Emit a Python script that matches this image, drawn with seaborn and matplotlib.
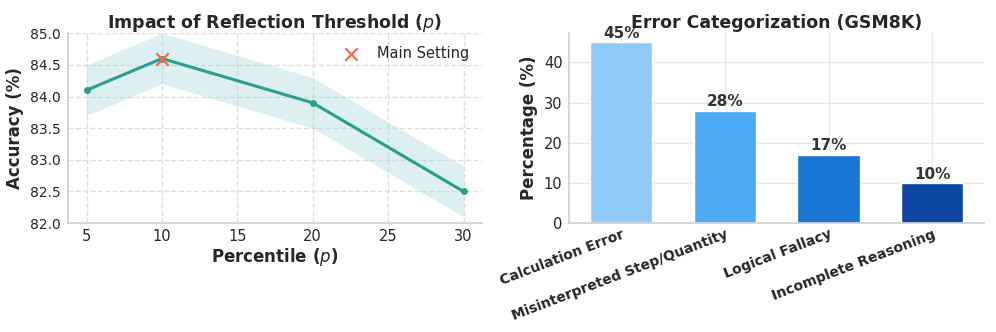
import numpy as np
import pandas as pd
import seaborn as sns
import matplotlib.pyplot as plt

# left panel: accuracy vs percentile
percentiles = [5, 10, 20, 30]
accuracy = [84.1, 84.6, 83.9, 82.5]
acc_lower = [83.7, 84.2, 83.5, 82.1]
acc_upper = [84.5, 85.0, 84.3, 82.9]
main_p = [10]
main_acc = [84.6]

# right panel: error categories
categories = ['Calculation Error', 'Misinterpreted Step/Quantity',
              'Logical Fallacy', 'Incomplete Reasoning']
percentages = [45, 28, 17, 10]
bar_colors = ['#90caf9', '#4dabf5', '#1976d2', '#0d47a1']

sns.set_theme(style="whitegrid")
plt.rcParams['font.family'] = ['DejaVu Sans']
plt.rcParams['axes.edgecolor'] = '#d0d0d0'
plt.rcParams['grid.color'] = '#e6e6e6'

fig, (ax1, ax2) = plt.subplots(1, 2, figsize=(9.96, 3.32), dpi=100)
fig.subplots_adjust(left=0.068, right=0.988, top=0.90, bottom=0.328, wspace=0.21)

df_line = pd.DataFrame({'Percentile': percentiles, 'Accuracy': accuracy})
ax1.fill_between(percentiles, acc_lower, acc_upper, color='#a8dadc', alpha=0.4, linewidth=0)
sns.lineplot(data=df_line, x='Percentile', y='Accuracy', ax=ax1, color='#2a9d8f',
             linewidth=2.2, marker='o', markersize=5, markeredgewidth=0)
ax1.scatter(main_p, main_acc, marker='x', s=80, color='#e76f51', linewidths=1.6,
            zorder=5, label='Main Setting')
ax1.set_ylim(82.0, 85.0)
ax1.set_yticks(np.arange(82.0, 85.01, 0.5))
ax1.set_yticklabels([f"{t:.1f}" for t in np.arange(82.0, 85.01, 0.5)])
ax1.set_xticks([5, 10, 15, 20, 25, 30])
ax1.grid(True, linestyle='--', color='#dddddd')
ax1.set_title('Impact of Reflection Threshold ($p$)', fontsize=12.5, fontweight='bold', pad=4)
ax1.set_xlabel('Percentile ($p$)', fontsize=12, fontweight='bold', labelpad=2)
ax1.set_ylabel('Accuracy (%)', fontsize=12, fontweight='bold', labelpad=4)
ax1.tick_params(axis='y', labelsize=10, length=0, pad=5)
ax1.tick_params(axis='x', labelsize=10.5, length=0, pad=4)
ax1.legend(loc='upper right', frameon=False, fontsize=10.5)
sns.despine(ax=ax1)

df_bar = pd.DataFrame({'Category': categories, 'Percentage': percentages})
sns.barplot(data=df_bar, x='Category', y='Percentage', hue='Category',
            palette=bar_colors, saturation=1, ax=ax2, width=0.6, legend=False)
for p, v in zip(ax2.patches, percentages):
    ax2.annotate(f"{v}%", (p.get_x() + p.get_width() / 2., p.get_height()),
                 ha='center', va='bottom', xytext=(0, 1), textcoords='offset points',
                 fontsize=11, fontweight='bold', color='#333333')
ax2.set_ylim(0, 47.25)
ax2.set_yticks([0, 10, 20, 30, 40])
ax2.grid(True, axis='both', color='#e6e6e6')
ax2.set_title('Error Categorization (GSM8K)', fontsize=12.5, fontweight='bold', pad=4)
ax2.set_xlabel('')
ax2.set_ylabel('Percentage (%)', fontsize=12, fontweight='bold', labelpad=4)
ax2.tick_params(axis='y', labelsize=10.5, length=0, pad=5)
ax2.tick_params(axis='x', length=0, pad=3)
plt.setp(ax2.get_xticklabels(), rotation=21, ha='right', fontweight='bold', fontsize=10,
         rotation_mode='anchor')
sns.despine(ax=ax2)

fig.savefig('out.png', dpi=100)
